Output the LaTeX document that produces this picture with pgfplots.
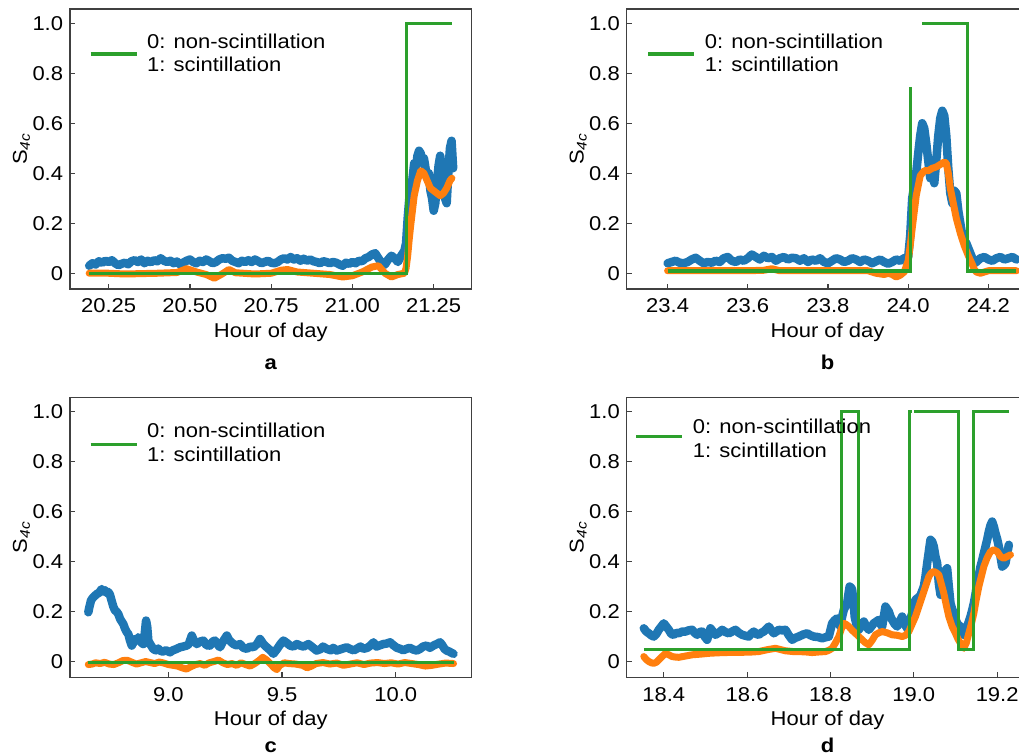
\documentclass[border=0pt]{standalone}
\usepackage{pgfplots}
\pgfplotsset{compat=1.18}
\usepackage{fontspec}
\setmainfont{Liberation Sans}[FakeStretch=1.1]
\definecolor{cblue}{HTML}{1F77B4}
\definecolor{corange}{HTML}{FF7F0E}
\definecolor{cgreen}{HTML}{2CA02C}
\newcommand{\fs}{\fontsize{20}{23.4}\selectfont}
\pgfplotsset{
  panel/.style={
    scale only axis, width=401.7pt, height=280pt,
    ymin=-0.063, ymax=1.057,
    ytick={0,0.2,0.4,0.6,0.8,1.0},
    yticklabels={0,0.2,0.4,0.6,0.8,1.0},
    axis line style={black!75, line width=1.3pt},
    tick style={black!75, line width=1.2pt},
    major tick length=5pt,
    tick align=inside,
    xtick pos=bottom, ytick pos=left,
    /pgf/number format/assume math mode=true,
    tick label style={font=\fs},
    yticklabel style={anchor=east, inner sep=0pt, xshift=-6.7pt},
    xticklabel style={anchor=base, inner sep=0pt, yshift=-24pt},
    xlabel={Hour of day},
    ylabel={S\textsubscript{\textit{4c}}},
    every axis x label/.style={at={(axis description cs:0.5,-0.1732)}, anchor=base, font=\fs, inner sep=0pt},
    every axis y label/.style={at={(axis description cs:-0.1207,0.5)}, anchor=center, rotate=90, font=\fs, inner sep=0pt},
    legend style={draw=none, fill=none, inner sep=0pt, outer sep=0pt, font=\fs,
      nodes={inner sep=0pt, anchor=west},
      /tikz/every odd column/.append style={column sep=9pt}},
    legend image code/.code={\draw[##1, line width=3.2pt] (0pt,#1) -- (46pt,#1);},
    clip mode=individual,
  },
  bl/.style={color=cblue, line width=8.5pt, line join=round, line cap=round, no markers, forget plot},
  or/.style={color=corange, line width=7pt, line join=round, line cap=round, no markers, forget plot},
  gr/.style={color=cgreen, line width=3.2pt, no markers},
}
\newcommand{\legtext}{\begin{tabular}[c]{@{}l@{}}0: non-scintillation\\1: scintillation\end{tabular}}
\begin{document}
\begin{tikzpicture}[font=\fs]
\useasboundingbox (0,0) rectangle (1019pt,755pt);
% ---------------- panel a
\begin{axis}[panel={-7pt}, at={(70pt,466pt)}, anchor=south west,
  xmin=20.131, xmax=21.367,
  xtick={20.25,20.5,20.75,21,21.25}, xticklabels={20.25,20.50,20.75,21.00,21.25},
  legend style={at={(rel axis cs:0,1)}, anchor=north west, xshift=19pt, yshift=-23pt}]
\addplot[bl] coordinates {
(20.19,0.030)(20.20,0.040)(20.21,0.035)(20.22,0.048)(20.23,0.042)(20.24,0.050)(20.25,0.045)(20.26,0.052)(20.27,0.040)(20.28,0.032)
(20.29,0.038)(20.30,0.042)(20.31,0.036)(20.32,0.048)(20.33,0.052)(20.34,0.045)(20.35,0.055)(20.36,0.040)(20.37,0.050)(20.38,0.044)
(20.39,0.052)(20.40,0.048)(20.41,0.060)(20.42,0.050)(20.43,0.045)(20.44,0.050)(20.45,0.040)(20.46,0.047)(20.47,0.035)(20.48,0.043)
(20.49,0.050)(20.50,0.055)(20.51,0.045)(20.52,0.040)(20.53,0.050)(20.54,0.045)(20.55,0.055)(20.56,0.048)(20.57,0.040)(20.58,0.045)
(20.59,0.055)(20.60,0.060)(20.61,0.058)(20.62,0.062)(20.63,0.050)(20.64,0.045)(20.65,0.040)(20.66,0.050)(20.67,0.045)(20.68,0.052)
(20.69,0.045)(20.70,0.055)(20.71,0.048)(20.72,0.040)(20.73,0.045)(20.74,0.050)(20.75,0.042)(20.76,0.040)(20.77,0.045)(20.78,0.055)
(20.79,0.060)(20.80,0.055)(20.81,0.065)(20.82,0.055)(20.83,0.060)(20.84,0.050)(20.85,0.058)(20.86,0.050)(20.87,0.055)(20.88,0.048)
(20.89,0.045)(20.90,0.040)(20.91,0.048)(20.92,0.045)(20.93,0.040)(20.94,0.045)(20.95,0.042)(20.96,0.035)(20.97,0.030)(20.98,0.042)
(20.99,0.038)(21.00,0.045)(21.01,0.040)(21.02,0.050)(21.03,0.048)(21.04,0.060)(21.05,0.065)(21.06,0.075)(21.07,0.080)(21.08,0.060)
(21.09,0.040)(21.10,0.035)(21.11,0.055)(21.12,0.070)(21.13,0.060)(21.14,0.045)(21.15,0.070)(21.16,0.090)(21.165,0.12)(21.17,0.22)
(21.175,0.30)(21.18,0.33)(21.185,0.38)(21.19,0.44)(21.195,0.41)(21.20,0.47)(21.205,0.49)(21.21,0.48)(21.215,0.45)(21.22,0.46)
(21.225,0.42)(21.23,0.38)(21.235,0.40)(21.24,0.33)(21.245,0.30)(21.25,0.25)(21.255,0.28)(21.26,0.36)(21.265,0.43)(21.27,0.47)
(21.275,0.42)(21.28,0.36)(21.285,0.30)(21.29,0.28)(21.295,0.40)(21.30,0.50)(21.305,0.53)(21.31,0.42)};
\addplot[or] coordinates {
(20.19,0.000)(20.25,0.000)(20.30,-0.003)(20.40,0.000)(20.46,0.003)(20.49,0.018)(20.52,0.005)(20.55,-0.005)(20.575,-0.02)(20.60,-0.002)
(20.62,0.015)(20.64,0.002)(20.70,-0.003)(20.75,0.000)(20.78,0.012)(20.80,0.015)(20.83,0.005)(20.88,0.000)(20.93,-0.005)(20.97,-0.015)
(21.00,-0.010)(21.03,0.005)(21.06,0.025)(21.08,0.030)(21.10,0.000)(21.12,-0.015)(21.14,-0.005)(21.16,0.000)(21.165,0.02)(21.17,0.07)
(21.175,0.14)(21.18,0.20)(21.19,0.31)(21.20,0.37)(21.21,0.41)(21.22,0.40)(21.23,0.37)(21.24,0.34)(21.25,0.33)(21.26,0.32)
(21.27,0.31)(21.28,0.32)(21.29,0.34)(21.30,0.37)(21.306,0.38)};
\addplot[gr] coordinates {(20.19,0)(21.166,0)(21.166,1)(21.306,1)};
\addlegendentry{\legtext}
\node[anchor=base, font=\fs\bfseries] at (axis description cs:0.5,-0.288) {a};
\end{axis}
% ---------------- panel b
\begin{axis}[panel={-7pt}, at={(626.7pt,466pt)}, anchor=south west,
  xmin=23.298, xmax=24.2998,
  xtick={23.4,23.6,23.8,24.0,24.2}, xticklabels={23.4,23.6,23.8,24.0,24.2},
  legend style={at={(rel axis cs:0,1)}, anchor=north west, xshift=20pt, yshift=-23pt}]
\addplot[bl] coordinates {
(23.40,0.040)(23.41,0.045)(23.42,0.050)(23.43,0.042)(23.44,0.040)(23.45,0.045)(23.46,0.055)(23.47,0.062)(23.48,0.050)(23.49,0.040)
(23.50,0.045)(23.51,0.042)(23.52,0.050)(23.53,0.045)(23.54,0.060)(23.55,0.065)(23.56,0.050)(23.57,0.045)(23.58,0.055)(23.59,0.050)
(23.60,0.060)(23.61,0.075)(23.62,0.065)(23.63,0.055)(23.64,0.070)(23.65,0.060)(23.66,0.065)(23.67,0.050)(23.68,0.060)(23.69,0.065)
(23.70,0.055)(23.71,0.062)(23.72,0.060)(23.73,0.050)(23.74,0.060)(23.75,0.045)(23.76,0.055)(23.77,0.050)(23.78,0.060)(23.79,0.045)
(23.80,0.040)(23.81,0.050)(23.82,0.060)(23.83,0.055)(23.84,0.045)(23.85,0.050)(23.86,0.060)(23.87,0.055)(23.88,0.045)(23.89,0.055)
(23.90,0.050)(23.91,0.040)(23.92,0.048)(23.93,0.055)(23.94,0.045)(23.95,0.038)(23.96,0.045)(23.97,0.055)(23.98,0.050)(23.99,0.060)
(24.00,0.065)(24.005,0.15)(24.01,0.30)(24.015,0.35)(24.02,0.40)(24.025,0.48)(24.03,0.55)(24.035,0.60)(24.04,0.58)(24.045,0.52)
(24.05,0.45)(24.055,0.38)(24.06,0.42)(24.065,0.36)(24.07,0.45)(24.075,0.55)(24.08,0.62)(24.085,0.65)(24.09,0.63)(24.095,0.55)
(24.10,0.42)(24.105,0.32)(24.11,0.28)(24.115,0.33)(24.12,0.32)(24.125,0.25)(24.13,0.20)(24.135,0.15)(24.14,0.13)(24.145,0.12)
(24.15,0.10)(24.155,0.08)(24.16,0.06)(24.165,0.04)(24.17,0.045)(24.18,0.060)(24.19,0.065)(24.20,0.055)(24.21,0.050)(24.22,0.060)
(24.23,0.065)(24.24,0.055)(24.25,0.060)(24.26,0.065)(24.27,0.055)};
\addplot[or] coordinates {
(23.40,0.010)(23.50,0.010)(23.60,0.010)(23.64,0.012)(23.66,0.018)(23.68,0.010)(23.80,0.010)(23.90,0.010)(23.92,0.000)(23.94,-0.005)
(23.95,0.000)(23.96,-0.005)(23.97,-0.015)(23.98,-0.008)(23.99,0.005)(24.00,0.050)(24.005,0.11)(24.01,0.18)(24.02,0.31)(24.03,0.39)
(24.04,0.41)(24.05,0.41)(24.06,0.42)(24.07,0.425)(24.08,0.435)(24.09,0.445)(24.095,0.44)(24.10,0.40)(24.105,0.34)(24.11,0.30)
(24.12,0.22)(24.13,0.16)(24.14,0.11)(24.15,0.07)(24.16,0.035)(24.165,0.015)(24.17,0.005)(24.18,0.000)(24.19,0.005)(24.20,0.010)
(24.27,0.010)};
\addplot[gr] coordinates {(23.40,0.009)(24.005,0.009)(24.005,0.746)};
\addlegendentry{\legtext}
\addplot[gr, forget plot] coordinates {(24.035,1.0)(24.147,1.0)(24.147,0.009)(24.269,0.009)};
\node[anchor=base, font=\fs\bfseries] at (axis description cs:0.5,-0.288) {b};
\end{axis}
% ---------------- panel c
\begin{axis}[panel={-8pt}, at={(70pt,77.7pt)}, anchor=south west,
  xmin=8.5675, xmax=10.334,
  xtick={9.0,9.5,10.0}, xticklabels={9.0,9.5,10.0},
  legend style={at={(rel axis cs:0,1)}, anchor=north west, xshift=19pt, yshift=-24pt}]
\addplot[bl] coordinates {
(8.648,0.197)(8.652,0.215)(8.660,0.245)(8.668,0.255)(8.676,0.262)(8.685,0.270)(8.695,0.275)(8.707,0.290)(8.715,0.280)(8.722,0.285)
(8.729,0.275)(8.736,0.278)(8.743,0.268)(8.750,0.245)(8.758,0.220)(8.765,0.205)(8.772,0.200)(8.780,0.190)(8.788,0.170)(8.795,0.160)
(8.802,0.150)(8.810,0.130)(8.817,0.118)(8.824,0.110)(8.831,0.085)(8.839,0.064)(8.846,0.075)(8.853,0.090)(8.861,0.084)(8.868,0.097)
(8.875,0.090)(8.882,0.075)(8.890,0.070)(8.896,0.110)(8.902,0.164)(8.907,0.140)(8.912,0.084)(8.920,0.070)(8.927,0.060)(8.934,0.050)
(8.945,0.045)(8.955,0.052)(8.963,0.044)(8.975,0.040)(8.990,0.045)(9.007,0.037)(9.020,0.045)(9.035,0.050)(9.051,0.057)(9.065,0.060)
(9.081,0.064)(9.090,0.070)(9.103,0.104)(9.112,0.085)(9.125,0.070)(9.140,0.080)(9.154,0.084)(9.168,0.065)(9.183,0.064)(9.195,0.080)
(9.205,0.084)(9.215,0.070)(9.227,0.057)(9.240,0.080)(9.257,0.104)(9.268,0.085)(9.286,0.070)(9.300,0.065)(9.315,0.070)(9.330,0.055)
(9.345,0.051)(9.360,0.060)(9.374,0.057)(9.390,0.070)(9.403,0.090)(9.418,0.070)(9.433,0.057)(9.448,0.045)(9.462,0.031)(9.478,0.050)
(9.493,0.070)(9.506,0.084)(9.520,0.075)(9.535,0.064)(9.550,0.060)(9.565,0.070)(9.579,0.064)(9.595,0.060)(9.616,0.070)(9.630,0.060)
(9.652,0.044)(9.670,0.050)(9.680,0.060)(9.696,0.051)(9.715,0.045)(9.725,0.055)(9.740,0.044)(9.760,0.050)(9.784,0.057)(9.800,0.050)
(9.815,0.045)(9.828,0.051)(9.845,0.060)(9.858,0.051)(9.875,0.055)(9.890,0.065)(9.902,0.077)(9.915,0.060)(9.930,0.065)(9.946,0.070)
(9.960,0.072)(9.975,0.077)(9.990,0.065)(10.005,0.055)(10.019,0.051)(10.033,0.045)(10.048,0.051)(10.062,0.055)(10.077,0.048)(10.092,0.044)
(10.106,0.050)(10.120,0.060)(10.136,0.064)(10.150,0.055)(10.166,0.064)(10.180,0.070)(10.195,0.077)(10.205,0.065)(10.215,0.050)(10.224,0.044)
(10.235,0.040)(10.245,0.035)(10.254,0.031)};
\addplot[or] coordinates {
(8.648,-0.012)(8.665,-0.010)(8.680,-0.005)(8.700,-0.008)(8.720,-0.003)(8.740,-0.010)(8.760,-0.012)(8.780,-0.005)(8.800,0.004)(8.820,0.005)
(8.840,-0.003)(8.860,-0.010)(8.880,-0.005)(8.900,0.000)(8.920,-0.004)(8.940,-0.008)(8.960,-0.002)(8.980,-0.006)(9.000,-0.012)(9.020,-0.015)
(9.040,-0.018)(9.060,-0.025)(9.080,-0.030)(9.100,-0.020)(9.120,-0.012)(9.140,-0.008)(9.160,-0.015)(9.180,-0.005)(9.200,0.000)(9.220,0.006)
(9.240,-0.005)(9.260,-0.012)(9.280,-0.008)(9.300,-0.015)(9.320,-0.005)(9.340,-0.012)(9.360,-0.018)(9.380,-0.008)(9.400,0.005)(9.415,0.017)
(9.430,0.008)(9.450,-0.010)(9.465,-0.025)(9.477,-0.032)(9.490,-0.015)(9.510,-0.005)(9.530,-0.008)(9.560,-0.010)(9.590,-0.015)(9.610,-0.025)
(9.630,-0.018)(9.650,-0.008)(9.680,-0.004)(9.710,-0.010)(9.740,-0.006)(9.770,-0.015)(9.800,-0.010)(9.830,-0.005)(9.860,-0.012)(9.890,-0.006)
(9.920,-0.004)(9.950,-0.008)(9.980,-0.005)(10.010,-0.010)(10.040,-0.004)(10.070,-0.008)(10.100,-0.012)(10.130,-0.018)(10.160,-0.015)(10.190,-0.010)
(10.220,-0.006)(10.254,-0.008)};
\addplot[gr] coordinates {(8.648,-0.004)(10.254,-0.004)};
\addlegendentry{\legtext}
\node[anchor=base, font=\fs\bfseries] at (axis description cs:0.5,-0.268) {c};
\end{axis}
% ---------------- panel d
\begin{axis}[panel={-4pt}, at={(626.7pt,77.7pt)}, anchor=south west,
  xmin=18.311, xmax=19.275,
  xtick={18.4,18.6,18.8,19.0,19.2}, xticklabels={18.4,18.6,18.8,19.0,19.2},
  legend style={at={(rel axis cs:0,1)}, anchor=north west, xshift=8pt, yshift=-20pt}]
\addplot[bl] coordinates {
(18.352,0.133)(18.358,0.120)(18.364,0.113)(18.370,0.105)(18.376,0.100)(18.382,0.110)(18.388,0.127)(18.394,0.140)(18.400,0.153)(18.406,0.140)
(18.412,0.127)(18.418,0.110)(18.424,0.107)(18.430,0.115)(18.436,0.113)(18.444,0.120)(18.452,0.120)(18.460,0.125)(18.468,0.127)(18.474,0.115)
(18.480,0.107)(18.486,0.118)(18.492,0.120)(18.498,0.100)(18.504,0.087)(18.512,0.133)(18.518,0.120)(18.524,0.107)(18.532,0.115)(18.540,0.127)
(18.548,0.118)(18.556,0.113)(18.564,0.120)(18.572,0.127)(18.580,0.115)(18.588,0.107)(18.596,0.103)(18.604,0.100)(18.610,0.112)(18.616,0.120)
(18.622,0.110)(18.628,0.107)(18.634,0.115)(18.640,0.120)(18.646,0.130)(18.652,0.140)(18.658,0.125)(18.664,0.113)(18.670,0.120)(18.676,0.127)
(18.684,0.125)(18.692,0.127)(18.700,0.105)(18.708,0.087)(18.716,0.095)(18.724,0.100)(18.734,0.108)(18.744,0.113)(18.752,0.105)(18.760,0.100)
(18.770,0.098)(18.780,0.093)(18.788,0.097)(18.796,0.100)(18.804,0.153)(18.810,0.165)(18.816,0.173)(18.820,0.150)(18.824,0.140)(18.828,0.180)
(18.832,0.207)(18.836,0.220)(18.840,0.233)(18.844,0.280)(18.846,0.300)(18.850,0.295)(18.852,0.287)(18.856,0.230)(18.858,0.180)(18.862,0.150)
(18.868,0.127)(18.874,0.145)(18.880,0.160)(18.886,0.140)(18.892,0.127)(18.898,0.140)(18.904,0.153)(18.910,0.160)(18.916,0.167)(18.920,0.150)
(18.924,0.140)(18.928,0.180)(18.932,0.220)(18.936,0.210)(18.940,0.200)(18.944,0.180)(18.948,0.167)(18.954,0.150)(18.960,0.140)(18.966,0.160)
(18.972,0.180)(18.978,0.150)(18.984,0.133)(18.990,0.160)(18.996,0.193)(19.000,0.220)(19.004,0.247)(19.010,0.255)(19.016,0.265)(19.024,0.300)
(19.028,0.340)(19.032,0.393)(19.036,0.440)(19.040,0.487)(19.044,0.480)(19.048,0.460)(19.052,0.420)(19.056,0.393)(19.060,0.313)(19.064,0.267)
(19.068,0.310)(19.072,0.353)(19.076,0.365)(19.080,0.373)(19.084,0.300)(19.088,0.233)(19.092,0.210)(19.096,0.193)(19.100,0.170)(19.104,0.153)
(19.108,0.145)(19.112,0.140)(19.116,0.120)(19.120,0.107)(19.124,0.120)(19.128,0.140)(19.132,0.160)(19.136,0.180)(19.140,0.205)(19.144,0.233)
(19.148,0.270)(19.152,0.313)(19.156,0.345)(19.160,0.380)(19.164,0.405)(19.168,0.433)(19.172,0.460)(19.176,0.487)(19.180,0.520)(19.184,0.545)
(19.188,0.560)(19.192,0.540)(19.196,0.513)(19.200,0.490)(19.204,0.460)(19.208,0.420)(19.212,0.380)(19.216,0.385)(19.220,0.393)(19.224,0.430)
(19.228,0.467)};
\addplot[or] coordinates {
(18.352,0.020)(18.358,0.008)(18.364,0.000)(18.370,-0.005)(18.376,-0.007)(18.382,-0.003)(18.388,0.007)(18.396,0.020)(18.404,0.033)(18.412,0.027)
(18.420,0.020)(18.428,0.018)(18.436,0.017)(18.452,0.022)(18.468,0.027)(18.490,0.030)(18.508,0.033)(18.530,0.035)(18.548,0.036)(18.570,0.037)
(18.588,0.037)(18.610,0.038)(18.628,0.040)(18.650,0.048)(18.668,0.053)(18.680,0.048)(18.692,0.043)(18.710,0.040)(18.724,0.040)(18.744,0.038)
(18.756,0.036)(18.770,0.038)(18.788,0.040)(18.796,0.045)(18.804,0.053)(18.812,0.075)(18.820,0.100)(18.826,0.130)(18.832,0.153)(18.838,0.148)
(18.844,0.140)(18.852,0.125)(18.860,0.113)(18.868,0.100)(18.876,0.087)(18.884,0.075)(18.892,0.067)(18.900,0.085)(18.908,0.107)(18.916,0.115)
(18.924,0.120)(18.936,0.115)(18.948,0.107)(18.960,0.105)(18.972,0.100)(18.980,0.105)(18.988,0.120)(18.996,0.150)(19.004,0.180)(19.012,0.220)
(19.020,0.260)(19.028,0.300)(19.036,0.340)(19.042,0.355)(19.048,0.360)(19.054,0.355)(19.060,0.347)(19.066,0.310)(19.072,0.273)(19.078,0.225)
(19.084,0.180)(19.092,0.140)(19.100,0.113)(19.106,0.090)(19.112,0.073)(19.120,0.053)(19.126,0.075)(19.132,0.113)(19.138,0.150)(19.144,0.193)
(19.150,0.250)(19.156,0.300)(19.162,0.340)(19.168,0.380)(19.176,0.415)(19.184,0.440)(19.192,0.447)(19.200,0.440)(19.208,0.420)(19.216,0.413)
(19.224,0.420)(19.232,0.427)};
\addplot[gr] coordinates {(18.352,0.047)(18.826,0.047)(18.826,1.0)(18.868,1.0)(18.868,0.047)(18.990,0.047)(18.990,1.0)(18.996,1.0)};
\addlegendentry{\legtext}
\addplot[gr, forget plot] coordinates {(19.000,1.0)(19.108,1.0)(19.108,0.047)(19.144,0.047)(19.144,1.0)(19.228,1.0)};
\node[anchor=base, font=\fs\bfseries] at (axis description cs:0.5,-0.268) {d};
\end{axis}
\end{tikzpicture}
\end{document}
